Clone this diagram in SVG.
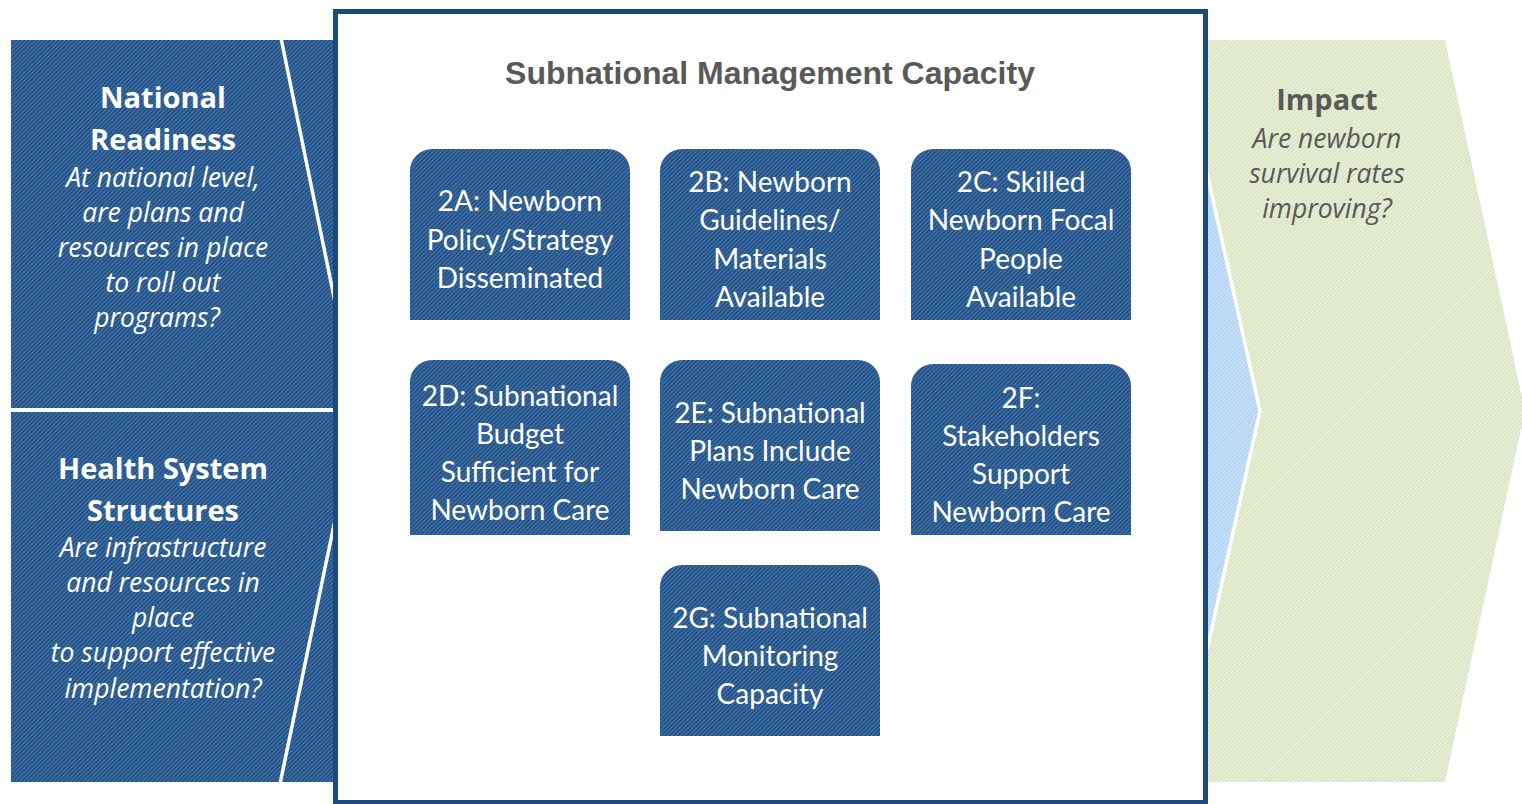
<svg xmlns="http://www.w3.org/2000/svg" width="1522" height="804" viewBox="0 0 1522 804">
<defs>
<pattern id="hBlue" patternUnits="userSpaceOnUse" width="3" height="3" patternTransform="rotate(-45)">
<rect width="3" height="3" fill="#4676ab"/><rect width="3" height="1.6" fill="#1d4b7f"/>
</pattern>
<pattern id="hGreen" patternUnits="userSpaceOnUse" width="3" height="3" patternTransform="rotate(-45)">
<rect width="3" height="3" fill="#eef3e2"/><rect width="3" height="1.6" fill="#d6e2bb"/>
</pattern>
<pattern id="hLight" patternUnits="userSpaceOnUse" width="3" height="3" patternTransform="rotate(-45)">
<rect width="3" height="3" fill="#d2e5f6"/><rect width="3" height="1.6" fill="#a9d2f6"/>
</pattern>
</defs>
<style>
.blue{fill:url(#hBlue)}
.wl{fill:none;stroke:#ffffff;stroke-width:3.5}
.nt{font-family:Lato,"Open Sans",sans-serif;font-size:28px;fill:#ffffff;text-anchor:middle}
.hb{font-family:"Open Sans","Noto Sans",sans-serif;font-weight:bold;font-size:29px;fill:#ffffff;text-anchor:middle}
.hi{font-family:"Open Sans","Noto Sans",sans-serif;font-style:italic;font-size:26.5px;fill:#ffffff;text-anchor:middle}
.gray{fill:#595959}
</style>
<g id="impact">
<polygon points="1205,160 1262,411 1205,662" fill="url(#hLight)"/>
<polygon points="1207,40 1445,40 1525,411 1445,782 1207,782 1207,650 1260,411 1207,173" fill="url(#hGreen)"/>
<polyline class="wl" points="1207,173 1260,411 1207,650"/>
<text class="hb gray" x="1327" y="110">Impact</text>
<text class="hi gray" x="1327" y="148">Are newborn</text>
<text class="hi gray" x="1327" y="183">survival rates</text>
<text class="hi gray" x="1327" y="218">improving?</text>
</g>
<g id="national-readiness">
<rect class="blue" x="11" y="40" width="324" height="368"/>
<polyline class="wl" points="281,38 335,302"/>
<text class="hb" x="163" y="108">National</text>
<text class="hb" x="163" y="150">Readiness</text>
<text class="hi" x="163" y="187">At national level,</text>
<text class="hi" x="163" y="222">are plans and</text>
<text class="hi" x="163" y="257">resources in place</text>
<text class="hi" x="163" y="292">to roll out</text>
<text class="hi" x="157" y="327">programs?</text>
</g>
<g id="health-system-structures">
<rect class="blue" x="11" y="412" width="324" height="370"/>
<polyline class="wl" points="335,520 280,784"/>
<text class="hb" x="163" y="479">Health System</text>
<text class="hb" x="163" y="521">Structures</text>
<text class="hi" x="163" y="557">Are infrastructure</text>
<text class="hi" x="163" y="592">and resources in</text>
<text class="hi" x="163" y="627">place</text>
<text class="hi" x="163" y="662">to support effective</text>
<text class="hi" x="163" y="698">implementation?</text>
</g>
<g id="subnational-management-capacity">
<rect x="335.5" y="11.5" width="870" height="791" fill="#ffffff" stroke="#1d4a7c" stroke-width="5"/>
<text x="770" y="84" font-family="Liberation Sans,Arial,sans-serif" font-weight="bold" font-size="32" fill="#595959" text-anchor="middle">Subnational Management Capacity</text>
</g>
<g id="node-2A">
<path class="blue" d="M410,320 V171 A22,22 0 0 1 432,149 H608 A22,22 0 0 1 630,171 V320 Z"/>
<text class="nt" x="520" y="211">2A: Newborn</text>
<text class="nt" x="520" y="250">Policy/Strategy</text>
<text class="nt" x="520" y="288">Disseminated</text>
</g>
<g id="node-2B">
<path class="blue" d="M660,320 V171 A22,22 0 0 1 682,149 H858 A22,22 0 0 1 880,171 V320 Z"/>
<text class="nt" x="770" y="192">2B: Newborn</text>
<text class="nt" x="770" y="230">Guidelines/</text>
<text class="nt" x="770" y="269">Materials</text>
<text class="nt" x="770" y="307">Available</text>
</g>
<g id="node-2C">
<path class="blue" d="M911,320 V171 A22,22 0 0 1 933,149 H1109 A22,22 0 0 1 1131,171 V320 Z"/>
<text class="nt" x="1021" y="192">2C: Skilled</text>
<text class="nt" x="1021" y="230">Newborn Focal</text>
<text class="nt" x="1021" y="269">People</text>
<text class="nt" x="1021" y="307">Available</text>
</g>
<g id="node-2D">
<path class="blue" d="M410,535 V382 A22,22 0 0 1 432,360 H608 A22,22 0 0 1 630,382 V535 Z"/>
<text class="nt" x="520" y="406">2D: Subnational</text>
<text class="nt" x="520" y="444">Budget</text>
<text class="nt" x="520" y="482">Sufficient for</text>
<text class="nt" x="520" y="520">Newborn Care</text>
</g>
<g id="node-2E">
<path class="blue" d="M660,531 V382 A22,22 0 0 1 682,360 H858 A22,22 0 0 1 880,382 V531 Z"/>
<text class="nt" x="770" y="423">2E: Subnational</text>
<text class="nt" x="770" y="461">Plans Include</text>
<text class="nt" x="770" y="499">Newborn Care</text>
</g>
<g id="node-2F">
<path class="blue" d="M911,535 V386 A22,22 0 0 1 933,364 H1109 A22,22 0 0 1 1131,386 V535 Z"/>
<text class="nt" x="1021" y="408">2F:</text>
<text class="nt" x="1021" y="446">Stakeholders</text>
<text class="nt" x="1021" y="484">Support</text>
<text class="nt" x="1021" y="522">Newborn Care</text>
</g>
<g id="node-2G">
<path class="blue" d="M660,736 V587 A22,22 0 0 1 682,565 H858 A22,22 0 0 1 880,587 V736 Z"/>
<text class="nt" x="770" y="628">2G: Subnational</text>
<text class="nt" x="770" y="666">Monitoring</text>
<text class="nt" x="770" y="704">Capacity</text>
</g>
<g id="connectors"/>
</svg>
